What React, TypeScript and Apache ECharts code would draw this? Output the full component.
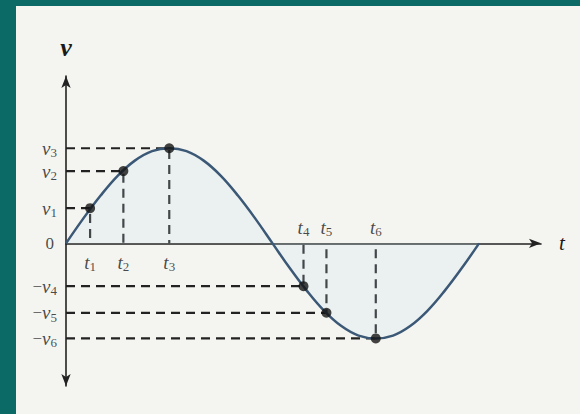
import React, { useEffect, useRef } from "react";
import * as echarts from "echarts";

// sine-like waveform (t in degrees, v in units; peak = 10)
const curveT = [0, 15, 30, 45, 60, 75, 90, 105, 120, 135, 150, 165, 180, 195, 210, 225, 240, 255, 270, 285, 300, 315, 330, 345, 360];
const curveV = [0, 2.6, 5.0, 7.1, 8.7, 9.7, 10, 9.7, 8.7, 7.1, 5.0, 2.6, 0, -2.6, -5.0, -7.1, -8.7, -9.7, -10, -9.7, -8.7, -7.1, -5.0, -2.6, 0];

// marked instants and their values
const pointIndex = ["1", "2", "3", "4", "5", "6"];
const pointT = [21, 50, 90, 207, 227, 270];
const pointV = [3.7, 7.6, 10, -4.5, -7.3, -10];

const axisNameV = "v";
const axisNameT = "t";
const originLabel = "0";

const SERIF = "Liberation Serif";
const INK = "#1a1a1a";

export default function App() {
  const ref = useRef<HTMLDivElement>(null);

  useEffect(() => {
    if (!ref.current) return;
    const chart = echarts.init(ref.current, undefined, { renderer: "svg" });

    const rich = {
      i: { fontFamily: SERIF, fontStyle: "italic", fontSize: 19, color: INK, lineHeight: 20 },
      n: { fontFamily: SERIF, fontSize: 17, color: INK, lineHeight: 20 },
      s: { fontFamily: SERIF, fontSize: 13, color: INK, padding: [9, 0, 0, 0] },
    } as any;

    const curve = curveT.map((t, k) => [t, curveV[k]]);

    const dashed = pointT.map((t, k) => ({
      type: "line",
      data: [
        [0, pointV[k]],
        [t, pointV[k]],
        [t, 0],
      ],
      symbol: "none",
      silent: true,
      z: 1,
      lineStyle: { color: "#222", width: 2.2, type: [9, 6] },
    }));

    const mkT = (k: number) => ({ value: [pointT[k], 0], name: "{i|t}{s|" + pointIndex[k] + "}" });
    const vLabels = pointT.map((t, k) => ({
      value: [0, pointV[k]],
      name: (pointV[k] < 0 ? "{n|−}" : "") + "{i|v}{s|" + pointIndex[k] + "}",
    }));
    const tLabelsPos = pointT.map((t, k) => k).filter((k) => pointV[k] >= 0).map(mkT);
    const tLabelsNeg = pointT.map((t, k) => k).filter((k) => pointV[k] < 0).map(mkT);

    const labelSeries = (data: any[], position: string, distance: number) => ({
      type: "scatter",
      data,
      symbolSize: 0,
      silent: true,
      z: 5,
      label: {
        show: true,
        position,
        distance,
        formatter: (p: any) => p.name,
        rich,
      },
    });

    chart.setOption({
      animation: false,
      backgroundColor: "transparent",
      grid: { left: 50, top: 70, width: 475, height: 310 },
      xAxis: {
        type: "value",
        min: 0,
        max: 414,
        name: axisNameT,
        nameLocation: "end",
        nameGap: 18,
        nameTextStyle: { fontFamily: SERIF, fontStyle: "italic", fontSize: 21, color: INK, verticalAlign: "middle" },
        axisLine: { onZero: true, lineStyle: { color: "#222", width: 1.6 }, symbol: ["none", "arrow"], symbolSize: [7, 12] },
        axisTick: { show: false },
        axisLabel: { show: false },
        splitLine: { show: false },
      },
      yAxis: {
        type: "value",
        min: -15,
        max: 17.6,
        name: axisNameV,
        nameLocation: "end",
        nameGap: 16,
        nameTextStyle: { fontFamily: SERIF, fontStyle: "italic", fontWeight: "bold", fontSize: 26, color: INK, align: "center" },
        axisLine: { lineStyle: { color: "#222", width: 1.6 }, symbol: ["arrow", "arrow"], symbolSize: [7, 12] },
        axisTick: { show: false },
        axisLabel: { show: false },
        splitLine: { show: false },
      },
      series: [
        ...dashed,
        {
          type: "line",
          data: curve,
          smooth: 0.4,
          symbol: "none",
          silent: true,
          z: 3,
          lineStyle: { color: "#3b5876", width: 2.5 },
          areaStyle: { color: "rgba(200,222,240,0.28)", origin: "auto" },
        },
        {
          type: "scatter",
          data: pointT.map((t, k) => [t, pointV[k]]),
          symbolSize: 10,
          silent: true,
          z: 4,
          itemStyle: { color: "#141414" },
        },
        labelSeries(vLabels, "left", 9),
        labelSeries([{ value: [0, 0], name: "{n|" + originLabel + "}" }], "left", 12),
        labelSeries(tLabelsPos, "bottom", 8),
        labelSeries(tLabelsNeg, "top", 5),
      ],
    });

    return () => chart.dispose();
  }, []);

  return (
    <div style={{ position: "fixed", left: 0, top: 0, width: 580, height: 414, background: "#0b6a65" }}>
      <div
        ref={ref}
        style={{ position: "absolute", left: 16, top: 6, width: 564, height: 408, background: "#f4f5f1" }}
      />
    </div>
  );
}
